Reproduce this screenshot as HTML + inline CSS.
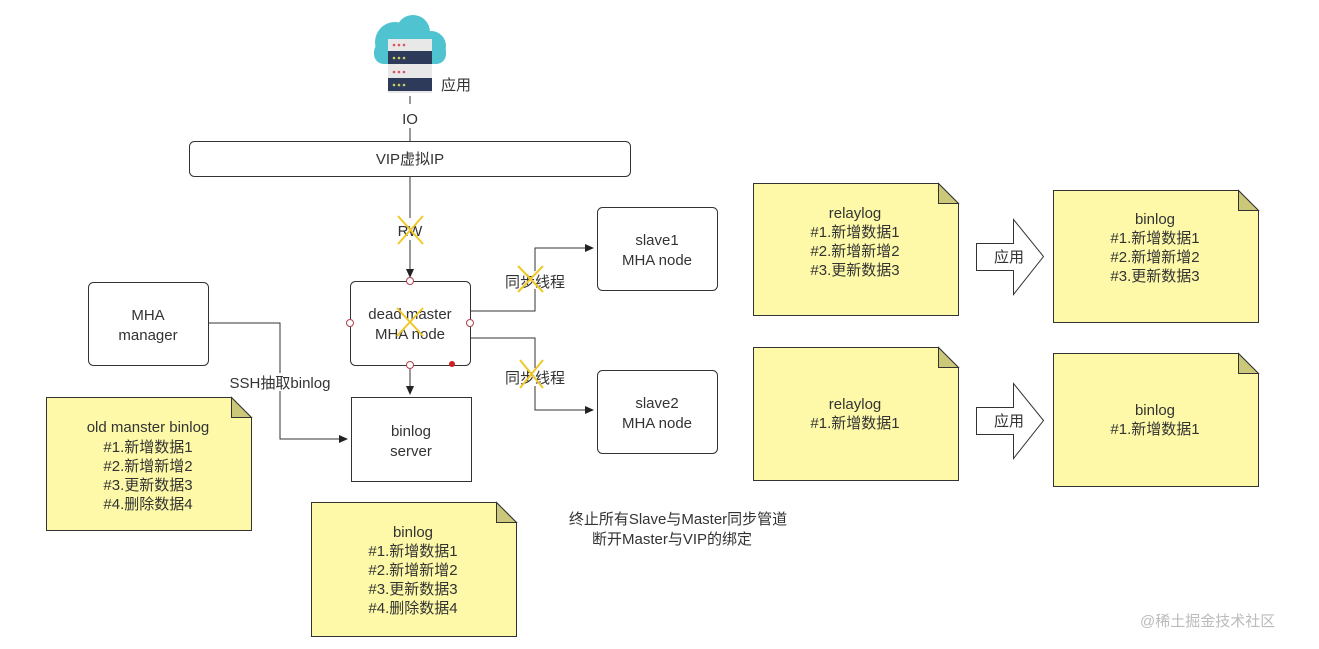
<!DOCTYPE html>
<html><head><meta charset="utf-8"><style>
html,body{margin:0;padding:0;background:#fff;}
svg{display:block;}
text{font-family:"Liberation Sans","Noto Sans CJK SC",sans-serif;fill:#333;font-size:15px;}
</style></head><body>
<svg width="1319" height="649" viewBox="0 0 1319 649" xmlns="http://www.w3.org/2000/svg">
<defs>
<marker id="ar" markerWidth="10" markerHeight="10" refX="8" refY="5" orient="auto" markerUnits="userSpaceOnUse">
<path d="M0,1 L9,5 L0,9 Z" fill="#222"/></marker>
</defs>
<g>
<circle cx="395" cy="42" r="20" fill="#4fc3d0"/>
<circle cx="413" cy="32" r="17" fill="#4fc3d0"/>
<circle cx="431" cy="46" r="15" fill="#4fc3d0"/>
<rect x="374" y="42" width="72" height="22" rx="10" fill="#4fc3d0"/>
<rect x="388" y="39" width="44" height="54" fill="#e8e8e8"/>
<rect x="388" y="51" width="44" height="13" fill="#2e3a5a"/>
<rect x="388" y="78" width="44" height="13" fill="#2e3a5a"/>
<g fill="#e05060"><circle cx="394" cy="45" r="1.3"/><circle cx="399" cy="45" r="1.3"/><circle cx="404" cy="45" r="1.3"/><circle cx="394" cy="72" r="1.3"/><circle cx="399" cy="72" r="1.3"/><circle cx="404" cy="72" r="1.3"/></g>
<g fill="#c8d060"><circle cx="394" cy="58" r="1.3"/><circle cx="399" cy="58" r="1.3"/><circle cx="404" cy="58" r="1.3"/><circle cx="394" cy="85" r="1.3"/><circle cx="399" cy="85" r="1.3"/><circle cx="404" cy="85" r="1.3"/></g>
</g>
<text x="441" y="90">应用</text>
<line x1="410" y1="96" x2="410" y2="104" stroke="#333"/>
<text x="410" y="124" text-anchor="middle" font-size="16">IO</text>
<line x1="410" y1="128" x2="410" y2="141" stroke="#333"/>
<rect x="189.5" y="141.5" width="441" height="35" rx="5" fill="#fff" stroke="#333"/>
<text x="410" y="164" text-anchor="middle">VIP虚拟IP</text>
<line x1="410" y1="177" x2="410" y2="218" stroke="#333"/>
<line x1="410" y1="240" x2="410" y2="277" stroke="#333" marker-end="url(#ar)"/>
<text x="410" y="236" text-anchor="middle" font-size="16">RW</text>
<g stroke="#f0c828" stroke-width="2"><line x1="398" y1="216" x2="423" y2="244"/><line x1="423" y1="216" x2="398" y2="244"/></g>
<rect x="350.5" y="281.5" width="120" height="84" rx="5" fill="#fff" stroke="#333"/>
<text x="410" y="319" text-anchor="middle" font-size="16">dead master</text>
<text x="410" y="339" text-anchor="middle" font-size="16">MHA node</text>
<g stroke="#f0c828" stroke-width="2"><line x1="397" y1="308" x2="423" y2="336"/><line x1="423" y1="308" x2="397" y2="336"/></g>
<g fill="#fff" stroke="#b04050"><circle cx="410" cy="281" r="3.5"/><circle cx="350" cy="323" r="3.5"/><circle cx="470" cy="323" r="3.5"/><circle cx="410" cy="365" r="3.5"/></g>
<circle cx="452" cy="364" r="3" fill="#d02020"/>
<line x1="410" y1="369" x2="410" y2="394" stroke="#333" marker-end="url(#ar)"/>
<rect x="351.5" y="397.5" width="120" height="84" fill="#fff" stroke="#333"/>
<text x="411" y="436" text-anchor="middle" font-size="16">binlog</text>
<text x="411" y="456" text-anchor="middle" font-size="16">server</text>
<rect x="88.5" y="282.5" width="120" height="83" rx="5" fill="#fff" stroke="#333"/>
<text x="148" y="320" text-anchor="middle" font-size="16">MHA</text>
<text x="148" y="340" text-anchor="middle" font-size="16">manager</text>
<polyline points="208,323 280,323 280,439 347,439" fill="none" stroke="#333" marker-end="url(#ar)"/>
<rect x="224" y="373" width="114" height="18" fill="#fff"/>
<text x="280" y="388" text-anchor="middle">SSH抽取binlog</text>
<polyline points="470,311 535,311 535,248 593,248" fill="none" stroke="#333" marker-end="url(#ar)"/>
<polyline points="470,338 535,338 535,410 593,410" fill="none" stroke="#333" marker-end="url(#ar)"/>
<rect x="502" y="271" width="66" height="18" fill="#fff"/>
<text x="535" y="287" text-anchor="middle">同步线程</text>
<rect x="502" y="368" width="66" height="18" fill="#fff"/>
<text x="535" y="383" text-anchor="middle">同步线程</text>
<g stroke="#f0c828" stroke-width="2"><line x1="518" y1="266" x2="543" y2="292"/><line x1="543" y1="266" x2="518" y2="292"/>
<line x1="520" y1="360" x2="543" y2="388"/><line x1="543" y1="360" x2="520" y2="388"/></g>
<rect x="597.5" y="207.5" width="120" height="83" rx="5" fill="#fff" stroke="#333"/>
<text x="657" y="245" text-anchor="middle" font-size="16">slave1</text>
<text x="657" y="265" text-anchor="middle" font-size="16">MHA node</text>
<rect x="597.5" y="370.5" width="120" height="83" rx="5" fill="#fff" stroke="#333"/>
<text x="657" y="408" text-anchor="middle" font-size="16">slave2</text>
<text x="657" y="428" text-anchor="middle" font-size="16">MHA node</text>
<g stroke="#333" stroke-width="1">
<path d="M46.5,397.5 H231.5 L251.5,417.5 V530.5 H46.5 Z" fill="#fdf9a8"/><path d="M231.5,397.5 V417.5 H251.5 Z" fill="#ccc87a"/>
<path d="M311.5,502.5 H496.5 L516.5,522.5 V636.5 H311.5 Z" fill="#fdf9a8"/><path d="M496.5,502.5 V522.5 H516.5 Z" fill="#ccc87a"/>
<path d="M753.5,183.5 H938.5 L958.5,203.5 V315.5 H753.5 Z" fill="#fdf9a8"/><path d="M938.5,183.5 V203.5 H958.5 Z" fill="#ccc87a"/>
<path d="M1053.5,190.5 H1238.5 L1258.5,210.5 V322.5 H1053.5 Z" fill="#fdf9a8"/><path d="M1238.5,190.5 V210.5 H1258.5 Z" fill="#ccc87a"/>
<path d="M753.5,347.5 H938.5 L958.5,367.5 V480.5 H753.5 Z" fill="#fdf9a8"/><path d="M938.5,347.5 V367.5 H958.5 Z" fill="#ccc87a"/>
<path d="M1053.5,353.5 H1238.5 L1258.5,373.5 V486.5 H1053.5 Z" fill="#fdf9a8"/><path d="M1238.5,353.5 V373.5 H1258.5 Z" fill="#ccc87a"/>
<path d="M976.5,243.5 H1013.5 V219.5 L1043.5,256.5 L1013.5,294.5 V270.5 H976.5 Z" fill="#fff"/>
<path d="M976.5,407.5 H1013.5 V383.5 L1043.5,420.5 L1013.5,458.5 V434.5 H976.5 Z" fill="#fff"/>
</g>
<text x="1009" y="262" text-anchor="middle">应用</text>
<text x="1009" y="426" text-anchor="middle">应用</text>
<g text-anchor="middle">
<text x="148" y="432" font-size="16">old manster binlog</text>
<text x="148" y="452">#1.新增数据1</text><text x="148" y="471">#2.新增新增2</text><text x="148" y="490">#3.更新数据3</text><text x="148" y="509">#4.删除数据4</text>
<text x="413" y="537" font-size="16">binlog</text>
<text x="413" y="556">#1.新增数据1</text><text x="413" y="575">#2.新增新增2</text><text x="413" y="594">#3.更新数据3</text><text x="413" y="613">#4.删除数据4</text>
<text x="855" y="218" font-size="16">relaylog</text>
<text x="855" y="237">#1.新增数据1</text><text x="855" y="256">#2.新增新增2</text><text x="855" y="275">#3.更新数据3</text>
<text x="1155" y="224" font-size="16">binlog</text>
<text x="1155" y="243">#1.新增数据1</text><text x="1155" y="262">#2.新增新增2</text><text x="1155" y="281">#3.更新数据3</text>
<text x="855" y="409" font-size="16">relaylog</text>
<text x="855" y="428">#1.新增数据1</text>
<text x="1155" y="415" font-size="16">binlog</text>
<text x="1155" y="434">#1.新增数据1</text>
<text x="678" y="524">终止所有Slave与Master同步管道</text>
<text x="672" y="544">断开Master与VIP的绑定</text>
</g>
<text x="1140" y="626" font-size="18" style="fill:#bbb">@稀土掘金技术社区</text>
</svg>
</body></html>
